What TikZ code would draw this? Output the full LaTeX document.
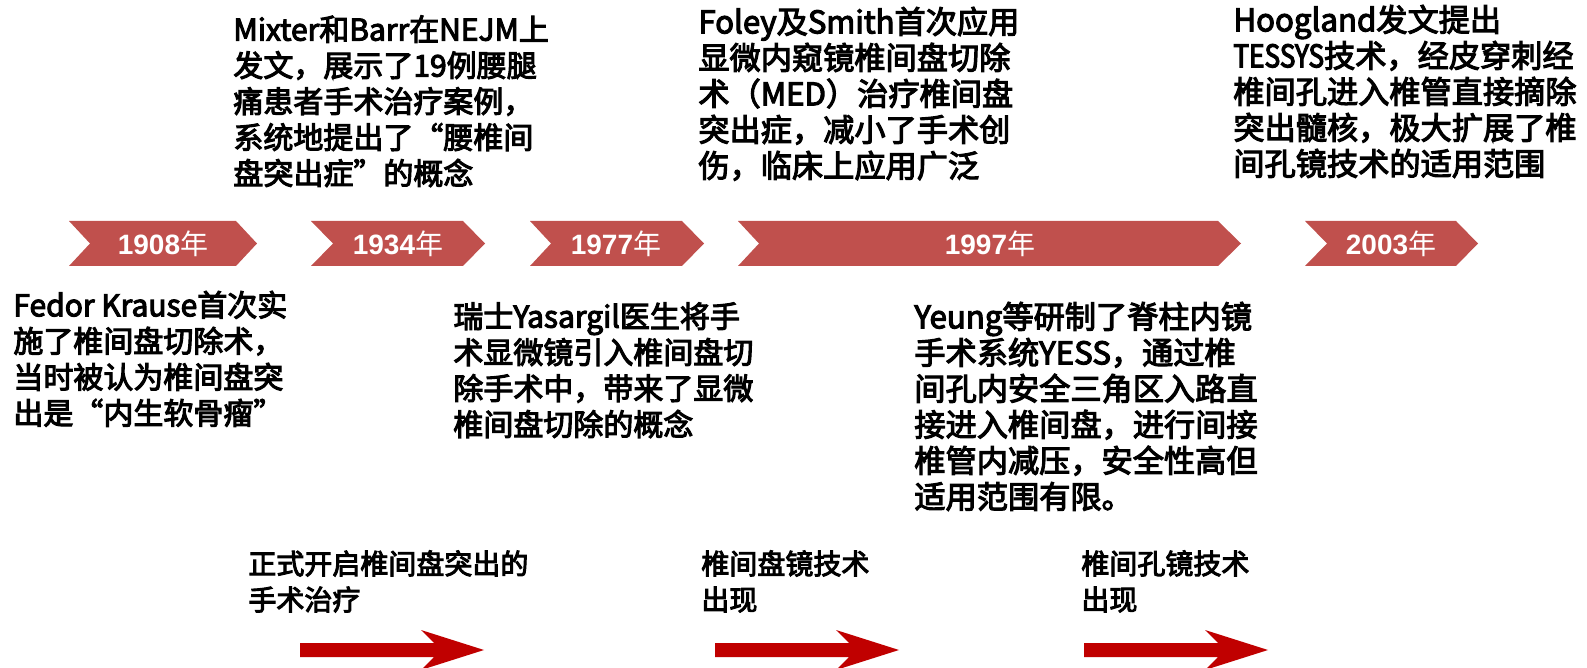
\documentclass[tikz,border=0pt]{standalone}
\usepackage{fontspec}
\newfontfamily\cjk{Noto Sans CJK SC}[FakeBold=3.5]
\newfontfamily\cjkn{Noto Sans CJK SC}[FakeBold=3.5,FakeStretch=0.84]
\newfontfamily\cjkl{Noto Sans CJK SC}
\newfontfamily\arl{Liberation Sans}
\definecolor{chevred}{HTML}{C0504D}
\definecolor{arrred}{HTML}{C00000}
\tikzset{
  chev/.style={fill=chevred, draw=none},
  bigarr/.style={fill=arrred, draw=none},
  yr/.style={text=white, inner sep=0pt, font=\arl\bfseries\fontsize{14}{16}\selectfont},
  blkwide/.style={anchor=north west, inner sep=0pt, align=left, font=\cjk\fontsize{15.6}{18}\selectfont},
  blknar/.style={anchor=north west, inner sep=0pt, align=left, font=\cjk\fontsize{15}{18}\selectfont},
  lab/.style={anchor=north west, inner sep=0pt, align=left, font=\cjk\fontsize{14}{18}\selectfont},
}
\newcommand\chevshape[4]{\fill[chev] (#1,221) -- (#3,221) -- (#4,243.5) -- (#3,266) -- (#1,266) -- (#2,243.5) -- cycle;}
\newcommand\arrshape[1]{\fill[bigarr] (#1,643) -- ++(134,0) -- ++(-13,-13) -- ++(63,20) -- ++(-63,20) -- ++(13,-13) -- ++(-134,0) -- cycle;}
\newcommand\yrtext[1]{#1{\cjkl\mdseries 年}}
\begin{document}
\begin{tikzpicture}[x=0.5pt,y=-0.5pt]
\useasboundingbox (0,0) rectangle (1587,668);
% chevrons
\chevshape{69}{90}{236}{257}
\chevshape{311}{333}{463}{485}
\chevshape{530}{551}{682}{704}
\chevshape{738}{759}{1218}{1241}
\chevshape{1305}{1327}{1456}{1478}
\node[yr] (y1) at (163,244) {\yrtext{1908}};
\node[yr] (y2) at (398,244) {\yrtext{1934}};
\node[yr] (y3) at (616,244) {\yrtext{1977}};
\node[yr] (y4) at (990,244) {\yrtext{1997}};
\node[yr] (y5) at (1391,244) {\yrtext{2003}};
% upper texts
\node[blknar] (t2) at (233,15) {Mixter和Barr在NEJM上\\发文，展示了19例腰腿\\痛患者手术治疗案例，\\系统地提出了“腰椎间\\盘突出症”的概念};
\node[blkwide] (t4) at (698,6.5) {Foley及Smith首次应用\\显微内窥镜椎间盘切除\\术（MED）治疗椎间盘\\突出症，减小了手术创\\伤，临床上应用广泛};
\node[blkwide] (t6) at (1233,4.5) {Hoogland发文提出\\{\cjkn TESSYS}技术，经皮穿刺经\\椎间孔进入椎管直接摘除\\突出髓核，极大扩展了椎\\间孔镜技术的适用范围};
% lower texts
\node[blknar] (t1) at (13,290.5) {Fedor Krause首次实\\施了椎间盘切除术，\\当时被认为椎间盘突\\出是“内生软骨瘤”};
\node[blknar] (t3) at (453,302) {瑞士Yasargil医生将手\\术显微镜引入椎间盘切\\除手术中，带来了显微\\椎间盘切除的概念};
\node[blkwide] (t5) at (914,301.5) {Yeung等研制了脊柱内镜\\手术系统YESS，通过椎\\间孔内安全三角区入路直\\接进入椎间盘，进行间接\\椎管内减压，安全性高但\\适用范围有限。};
% bottom labels
\node[lab] (l1) at (248,550) {正式开启椎间盘突出的\\手术治疗};
\node[lab] (l2) at (701,550) {椎间盘镜技术\\出现};
\node[lab] (l3) at (1081,550) {椎间孔镜技术\\出现};
% arrows
\arrshape{300}
\arrshape{715}
\arrshape{1084}
\end{tikzpicture}
\end{document}
